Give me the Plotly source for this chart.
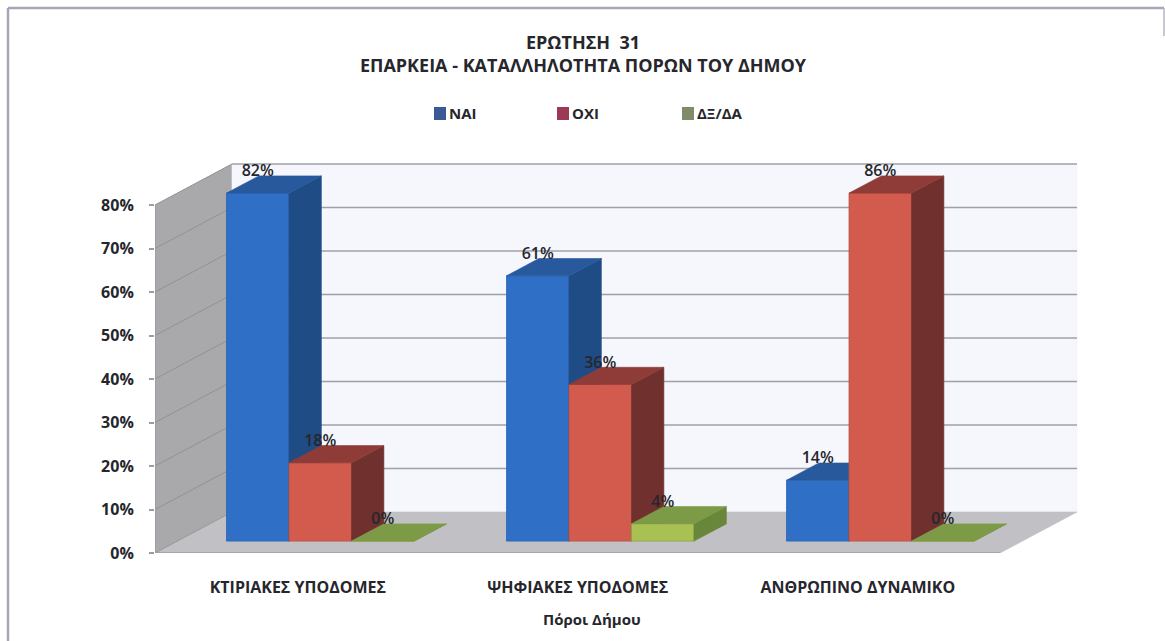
import plotly.graph_objects as go

# ---- data ----
CATEGORIES = ["ΚΤΙΡΙΑΚΕΣ ΥΠΟΔΟΜΕΣ", "ΨΗΦΙΑΚΕΣ ΥΠΟΔΟΜΕΣ", "ΑΝΘΡΩΠΙΝΟ ΔΥΝΑΜΙΚΟ"]
SERIES_NAMES = ["ΝΑΙ", "ΟΧΙ", "ΔΞ/ΔΑ"]
NAI = [82, 61, 14]
OXI = [18, 36, 86]
DXDA = [0, 4, 0]
Y_TICKS = [0, 10, 20, 30, 40, 50, 60, 70, 80]
AXIS_MAX = 80
TITLE_LINE_1 = "ΕΡΩΤΗΣΗ  31"
TITLE_LINE_2 = "ΕΠΑΡΚΕΙΑ - ΚΑΤΑΛΛΗΛΟΤΗΤΑ ΠΟΡΩΝ ΤΟΥ ΔΗΜΟΥ"
X_TITLE = "Πόροι Δήμου"

# ---- styles ----
W, H = 1165, 641
FONT = "Open Sans"
INK = "#26262c"
FRONT = ["#2f6fc6", "#d25b4d", "#a9c052"]
EDGE = ["#2a64b4", "#bd5044", "#8fa648"]
SIDE = ["#204c86", "#6f302e", "#68873a"]
TOP = ["#27599c", "#8f3b38", "#7d9b46"]
SWATCH = ["#3b5a95", "#9c3a56", "#7f8b6a"]
LEFT_PX, RIGHT_PX, TOP_PX, BOTTOM_PX = 155, 1090, 150, 553
PX_PER_CAT, PX_PER_PCT = 280.0, 4.35
DEPTH_X_PX, DEPTH_Y_PX = 77.0, 41.0
FLOOR_END = 3.018
X_RANGE = [0, (RIGHT_PX - LEFT_PX) / PX_PER_CAT]
Y_RANGE = [0, (BOTTOM_PX - TOP_PX) / PX_PER_PCT]
BAR_START, BAR_W = 0.1757, 0.2232
D0, D1 = 0.29, 0.71
CAT_CENTER = 0.51
LABEL_LIFT_PX = 21


def project(cat, val, depth):
    """Oblique projection: category units, percent, depth 0..1 -> axis units."""
    return (cat + depth * DEPTH_X_PX / PX_PER_CAT,
            val + depth * DEPTH_Y_PX / PX_PER_PCT)


def poly(points, color, xa="x", ya="y"):
    xs, ys = zip(*[project(*p) for p in points])
    return go.Scatter(x=list(xs) + [xs[0]], y=list(ys) + [ys[0]], mode="lines",
                      fill="toself", fillcolor=color, line=dict(color=color, width=0.6),
                      hoverinfo="skip", showlegend=False, xaxis=xa, yaxis=ya)


fig = go.Figure()

# walls and floor
fig.add_trace(poly([(0, 0, 0), (0, AXIS_MAX, 0), (0, AXIS_MAX, 1), (0, 0, 1)], "#a9a9ab"))
fig.add_trace(poly([(0, 0, 1), (0, AXIS_MAX, 1), (FLOOR_END, AXIS_MAX, 1), (FLOOR_END, 0, 1)], "#f5f7fd"))
fig.add_trace(poly([(0, 0, 0), (FLOOR_END, 0, 0), (FLOOR_END, 0, 1), (0, 0, 1)], "#c1c1c5"))

# gridlines
back_x, back_y, wall_x, wall_y = [], [], [], []
for t in Y_TICKS:
    a = project(0, t, 0)
    b = project(0, t, 1)
    c = project(FLOOR_END, t, 1)
    wall_x += [a[0], b[0], None]
    wall_y += [a[1], b[1], None]
    if t > 0:
        back_x += [b[0], c[0], None]
        back_y += [b[1], c[1], None]
fig.add_trace(go.Scatter(x=wall_x, y=wall_y, mode="lines", line=dict(color="#8c8c8c", width=0.8),
                         hoverinfo="skip", showlegend=False))
fig.add_trace(go.Scatter(x=back_x, y=back_y, mode="lines", line=dict(color="#a0a0aa", width=1.6),
                         hoverinfo="skip", showlegend=False))
# left axis line and front floor edge
ax0, ax1, fl = project(0, 0, 0), project(0, AXIS_MAX, 0), project(FLOOR_END, 0, 0)
fig.add_trace(go.Scatter(x=[ax1[0], ax0[0], fl[0]], y=[ax1[1], ax0[1], fl[1]], mode="lines",
                         line=dict(color="#9c9ca4", width=1.6), hoverinfo="skip", showlegend=False))

# bars: one overlaying axis pair per series so that later series hide earlier ones
label_x, label_y, label_text = [], [], []
for s, values in enumerate([NAI, OXI, DXDA]):
    xa, ya = f"x{s + 2}", f"y{s + 2}"
    clipped = [min(v, AXIS_MAX) for v in values]
    left = [i + BAR_START + s * BAR_W for i in range(len(values))]
    base_val = D0 * DEPTH_Y_PX / PX_PER_PCT
    shift = D0 * DEPTH_X_PX / PX_PER_CAT
    fig.add_trace(go.Bar(x=[l + shift + BAR_W / 2 for l in left], y=clipped,
                         base=[base_val] * len(values), width=BAR_W,
                         name=SERIES_NAMES[s], xaxis=xa, yaxis=ya, showlegend=False,
                         marker=dict(color=FRONT[s], line=dict(color=EDGE[s], width=0.8))))
    for l, v in zip(left, clipped):
        r = l + BAR_W
        fig.add_trace(poly([(r, 0, D0), (r, v, D0), (r, v, D1), (r, 0, D1)], SIDE[s], xa, ya))
        fig.add_trace(poly([(l, v, D0), (r, v, D0), (r, v, D1), (l, v, D1)], TOP[s], xa, ya))
        px_, py_ = project(l + BAR_W / 2, v, D0)
        label_x.append(px_)
        label_y.append(py_ + LABEL_LIFT_PX / PX_PER_PCT)
    label_text += [f"{v}%" for v in values]

# data labels on top of everything
fig.add_trace(go.Scatter(x=label_x, y=label_y, text=label_text, mode="text", textposition="middle center",
                         textfont=dict(family=FONT, size=16, color=INK, weight=600), hoverinfo="skip",
                         showlegend=False, xaxis="x4", yaxis="y4", cliponaxis=False))

domain_x = [LEFT_PX / W, RIGHT_PX / W]
domain_y = [1 - BOTTOM_PX / H, 1 - TOP_PX / H]
hidden = dict(domain=domain_x, range=X_RANGE, visible=False, fixedrange=True)
hidden_y = dict(domain=domain_y, range=Y_RANGE, visible=False, fixedrange=True)


def px(x):
    return x / W


def py(y):
    return 1 - y / H


shapes = [
    dict(type="line", xref="paper", yref="paper", x0=px(8), x1=px(8), y0=py(8), y1=py(641),
         line=dict(color="#a6a6b6", width=2.5)),
    dict(type="line", xref="paper", yref="paper", x0=px(8), x1=px(1164), y0=py(8), y1=py(8),
         line=dict(color="#a6a6b6", width=2.5)),
    dict(type="line", xref="paper", yref="paper", x0=px(1164), x1=px(1164), y0=py(8), y1=py(36),
         line=dict(color="#b4b4c0", width=1.5)),
]
annotations = [
    dict(text=X_TITLE, xref="paper", yref="paper", x=px(592), y=py(619), yanchor="middle", showarrow=False,
         font=dict(family=FONT, size=15, color=INK, weight="bold")),
]
# hand-built legend: the swatches are darker than the bars and sit tight against the text
for cx, name, color in zip([440, 563, 688], SERIES_NAMES, SWATCH):
    shapes.append(dict(type="rect", xref="paper", yref="paper", x0=px(cx - 6), x1=px(cx + 6),
                       y0=py(120), y1=py(107), fillcolor=color, line=dict(width=0)))
    annotations.append(dict(text=name, xref="paper", yref="paper", x=px(cx + 7), y=py(113),
                            xanchor="left", yanchor="middle", showarrow=False,
                            font=dict(family=FONT, size=15, color=INK, weight="bold")))

fig.update_layout(
    width=W, height=H, autosize=False,
    margin=dict(l=0, r=0, t=0, b=0, autoexpand=False),
    paper_bgcolor="#ffffff", plot_bgcolor="rgba(0,0,0,0)",
    barmode="overlay", showlegend=False,
    title=dict(text=f"<b>{TITLE_LINE_1}<br>{TITLE_LINE_2}</b>", x=583 / W, xanchor="center",
               y=py(49), yanchor="top", font=dict(family=FONT, size=18, color=INK)),
    xaxis=dict(domain=domain_x, range=X_RANGE, tickmode="array",
               tickvals=[i + CAT_CENTER for i in range(len(CATEGORIES))], ticktext=CATEGORIES,
               ticks="", showgrid=False, zeroline=False, showline=False, ticklabelstandoff=23,
               tickfont=dict(family=FONT, size=16, color=INK, weight="bold"), fixedrange=True),
    yaxis=dict(domain=domain_y, range=Y_RANGE, tickmode="array", tickvals=Y_TICKS,
               ticktext=[f"{t}%" for t in Y_TICKS], ticks="outside", ticklen=5, tickcolor="#9c9ca4",
               tickwidth=1.5, showgrid=False, zeroline=False, showline=False, ticklabelstandoff=12,
               tickfont=dict(family=FONT, size=16, color=INK, weight="bold"), fixedrange=True),
    xaxis2=dict(hidden, overlaying="x"), yaxis2=dict(hidden_y, overlaying="y"),
    xaxis3=dict(hidden, overlaying="x"), yaxis3=dict(hidden_y, overlaying="y"),
    xaxis4=dict(hidden, overlaying="x"), yaxis4=dict(hidden_y, overlaying="y"),
    shapes=shapes, annotations=annotations,
)

fig.write_html("out.html", config={"displayModeBar": False},
               post_script="document.body.style.margin='0';document.body.style.overflow='hidden';")
